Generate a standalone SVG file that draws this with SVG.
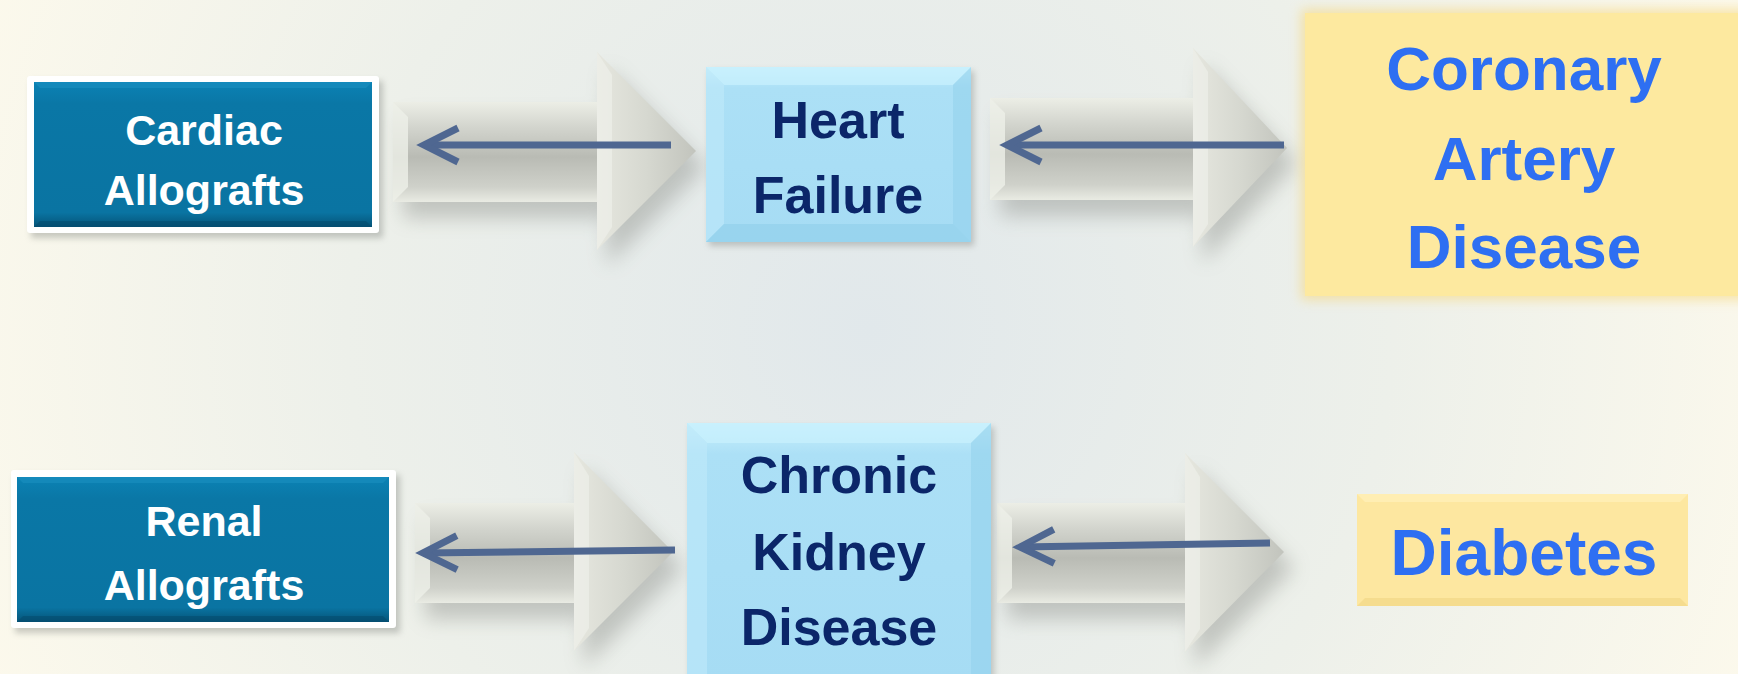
<svg xmlns="http://www.w3.org/2000/svg" width="1738" height="674" viewBox="0 0 1738 674">
<defs>
  <radialGradient id="bg" cx="870" cy="330" r="950" gradientUnits="userSpaceOnUse">
    <stop offset="0" stop-color="#e1e8eb"/>
    <stop offset="0.55" stop-color="#edf0ea"/>
    <stop offset="1" stop-color="#fcf9ec"/>
  </radialGradient>
  <linearGradient id="blueFill" x1="0" y1="0" x2="0" y2="1">
    <stop offset="0" stop-color="#0b82b4"/>
    <stop offset="0.15" stop-color="#0a77a6"/>
    <stop offset="0.9" stop-color="#0a74a2"/>
    <stop offset="1" stop-color="#055478"/>
  </linearGradient>
  <linearGradient id="cyanFill" x1="0" y1="0" x2="0" y2="1">
    <stop offset="0" stop-color="#c8f0fc"/>
    <stop offset="0.12" stop-color="#ace0f6"/>
    <stop offset="1" stop-color="#a6dcf4"/>
  </linearGradient>
  <linearGradient id="shaft" x1="0" y1="0" x2="0" y2="1">
    <stop offset="0" stop-color="#eceee6"/>
    <stop offset="0.25" stop-color="#d3d5ce"/>
    <stop offset="0.55" stop-color="#b9bbb4"/>
    <stop offset="0.85" stop-color="#cfd1ca"/>
    <stop offset="1" stop-color="#e9ebe3"/>
  </linearGradient>
  <linearGradient id="head" x1="0" y1="0" x2="1" y2="0">
    <stop offset="0" stop-color="#e6e7df"/>
    <stop offset="0.5" stop-color="#d6d8d0"/>
    <stop offset="1" stop-color="#c2c4bd"/>
  </linearGradient>
  <filter id="shadow" x="-20%" y="-20%" width="150%" height="160%">
    <feGaussianBlur stdDeviation="10"/>
  </filter>
  <filter id="soft" x="-10%" y="-10%" width="120%" height="120%">
    <feGaussianBlur stdDeviation="3"/>
  </filter>
  <filter id="glow" x="-10%" y="-10%" width="120%" height="120%">
    <feGaussianBlur stdDeviation="6"/>
  </filter>
  <marker id="chev" markerUnits="userSpaceOnUse" viewBox="-44 -24 50 48" markerWidth="50" markerHeight="48" refX="0" refY="0" orient="auto" overflow="visible">
    <path d="M-34,-17 L0,0 L-34,17" fill="none" stroke="#4f6791" stroke-width="7" stroke-linejoin="miter"/>
  </marker>
  <style>
    .t { font-family: "Liberation Sans", Arial, sans-serif; font-weight: bold; text-anchor: middle; }
    .white { fill: #ffffff; font-size: 43px; }
    .navy { fill: #0b2669; font-size: 52px; }
    .blue { fill: #2e6ff2; }
    .line { fill: none; stroke: #4f6791; stroke-width: 7; marker-end: url(#chev); }
    .shd { fill: #8d908a; opacity: 0.45; filter: url(#shadow); }
    .shaft { fill: url(#shaft); }
    .head { fill: url(#head); }
  </style>
</defs>

<rect x="0" y="0" width="1738" height="674" fill="url(#bg)"/>

<!-- Big 3D arrows -->
<g id="bigarrows">
  <!-- A1 -->
  <polygon class="shd" points="403,118 607,118 607,68 706,167 607,266 607,218 403,218"/>
  <rect class="shaft" x="393" y="102" width="206" height="100"/>
  <polygon class="head" points="597,52 696,151 597,250"/>
  <polygon points="597,52 612,75 612,227 597,250" fill="#eef0e9" opacity="0.7"/>
  <polygon points="393,102 408,117 408,187 393,202" fill="#eef0e8" opacity="0.8"/>
  <!-- A2 -->
  <polygon class="shd" points="1000,114 1203,114 1203,64 1297,163 1203,263 1203,216 1000,216"/>
  <rect class="shaft" x="990" y="98" width="205" height="102"/>
  <polygon class="head" points="1193,48 1287,148 1193,247"/>
  <polygon points="1193,48 1208,72 1208,224 1193,247" fill="#eef0e9" opacity="0.7"/>
  <polygon points="990,98 1005,113 1005,185 990,200" fill="#eef0e8" opacity="0.8"/>
  <!-- A3 -->
  <polygon class="shd" points="425,519 584,519 584,468 683,568 584,667 584,619 425,619"/>
  <rect class="shaft" x="415" y="503" width="161" height="100"/>
  <polygon class="head" points="574,452 673,552 574,651"/>
  <polygon points="574,452 589,476 589,628 574,651" fill="#eef0e9" opacity="0.7"/>
  <polygon points="415,503 430,518 430,588 415,603" fill="#eef0e8" opacity="0.8"/>
  <!-- A4 -->
  <polygon class="shd" points="1007,519 1195,519 1195,469 1294,568 1195,668 1195,619 1007,619"/>
  <rect class="shaft" x="997" y="503" width="190" height="100"/>
  <polygon class="head" points="1185,453 1284,552 1185,652"/>
  <polygon points="1185,453 1200,477 1200,629 1185,652" fill="#eef0e9" opacity="0.7"/>
  <polygon points="997,503 1012,518 1012,588 997,603" fill="#eef0e8" opacity="0.8"/>
</g>

<!-- Connectors -->
<g id="connectors">
  <path class="line" d="M671,145 L424,145"/>
  <path class="line" d="M1284,145 L1007,145"/>
  <path class="line" d="M675,550 L423,553"/>
  <path class="line" d="M1270,543 L1020,547"/>
</g>

<!-- Cardiac Allografts -->
<g id="cardiac">
  <rect x="31" y="81" width="352" height="157" fill="#6c6f6a" opacity="0.35" filter="url(#soft)"/>
  <rect x="27" y="76" width="352" height="157" rx="3" fill="#ffffff"/>
  <rect x="34" y="82" width="338" height="145" fill="url(#blueFill)"/>
  <polygon points="34,82 372,82 366,88 40,88" fill="#1a8fc0" opacity="0.6"/>
  <polygon points="34,227 372,227 366,221 40,221" fill="#04486a" opacity="0.5"/>
  <text class="t white" x="204" y="145">Cardiac</text>
  <text class="t white" x="204" y="205">Allografts</text>
</g>

<!-- Renal Allografts -->
<g id="renal">
  <rect x="15" y="475" width="385" height="158" fill="#6c6f6a" opacity="0.35" filter="url(#soft)"/>
  <rect x="11" y="470" width="385" height="158" rx="3" fill="#ffffff"/>
  <rect x="17" y="477" width="372" height="145" fill="url(#blueFill)"/>
  <polygon points="17,477 389,477 383,483 23,483" fill="#1a8fc0" opacity="0.6"/>
  <polygon points="17,622 389,622 383,616 23,616" fill="#04486a" opacity="0.5"/>
  <text class="t white" x="204" y="536">Renal</text>
  <text class="t white" x="204" y="600">Allografts</text>
</g>

<!-- Heart Failure -->
<g id="heart">
  <rect x="709" y="71" width="265" height="175" fill="#6c6f6a" opacity="0.35" filter="url(#soft)"/>
  <rect x="706" y="67" width="265" height="175" fill="url(#cyanFill)"/>
  <polygon points="706,67 971,67 953,85 724,85" fill="#c9f1fd" opacity="0.7"/>
  <polygon points="706,67 724,85 724,224 706,242" fill="#bfe9fa" opacity="0.6"/>
  <polygon points="971,67 953,85 953,224 971,242" fill="#95d2ec" opacity="0.6"/>
  <polygon points="706,242 724,224 953,224 971,242" fill="#90cfea" opacity="0.6"/>
  <text class="t navy" x="838" y="138">Heart</text>
  <text class="t navy" x="838" y="213">Failure</text>
</g>

<!-- Chronic Kidney Disease -->
<g id="ckd">
  <rect x="690" y="427" width="304" height="260" fill="#6c6f6a" opacity="0.35" filter="url(#soft)"/>
  <rect x="687" y="423" width="304" height="260" fill="url(#cyanFill)"/>
  <polygon points="687,423 991,423 971,443 707,443" fill="#c9f1fd" opacity="0.7"/>
  <polygon points="687,423 707,443 707,683 687,683" fill="#bfe9fa" opacity="0.6"/>
  <polygon points="991,423 971,443 971,683 991,683" fill="#95d2ec" opacity="0.6"/>
  <text class="t navy" x="839" y="493">Chronic</text>
  <text class="t navy" x="839" y="570">Kidney</text>
  <text class="t navy" x="839" y="645">Disease</text>
</g>

<!-- Coronary Artery Disease -->
<g id="coronary">
  <rect x="1301" y="9" width="450" height="291" fill="#f6d77a" opacity="0.6" filter="url(#glow)"/>
  <rect x="1305" y="13" width="440" height="283" fill="#fde99f"/>
  <text class="t blue" x="1524" y="90" font-size="62">Coronary</text>
  <text class="t blue" x="1524" y="180" font-size="62">Artery</text>
  <text class="t blue" x="1524" y="268" font-size="62">Disease</text>
</g>

<!-- Diabetes -->
<g id="diabetes">
  <rect x="1357" y="494" width="331" height="112" fill="#fde7a0"/>
  <polygon points="1357,494 1688,494 1680,502 1365,502" fill="#fff0b8" opacity="0.8"/>
  <polygon points="1357,606 1688,606 1680,598 1365,598" fill="#f3d98a" opacity="0.8"/>
  <text class="t blue" x="1524" y="575" font-size="64">Diabetes</text>
</g>
</svg>
